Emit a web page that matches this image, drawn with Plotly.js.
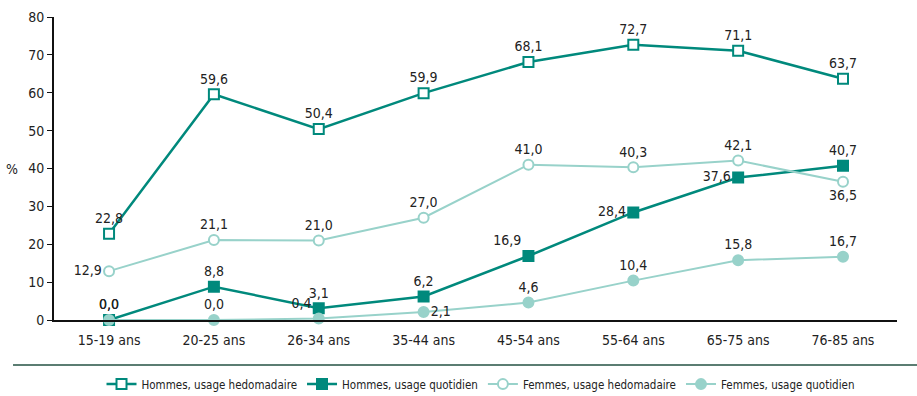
<!DOCTYPE html>
<html>
<head>
<meta charset="utf-8">
<script src="https://cdn.plot.ly/plotly-3.0.1.min.js"></script>
<style>html,body{margin:0;padding:0;background:#fff;}#chart{width:917px;height:396px;}</style>
</head>
<body>
<div id="chart"></div>
<script>
var categories = ["15-19 ans","20-25 ans","26-34 ans","35-44 ans","45-54 ans","55-64 ans","65-75 ans","76-85 ans"];
var hommesHebdo = [22.8, 59.6, 50.4, 59.9, 68.1, 72.7, 71.1, 63.7];
var hommesQuot  = [0.0, 8.8, 3.1, 6.2, 16.9, 28.4, 37.6, 40.7];
var femmesHebdo = [12.9, 21.1, 21.0, 27.0, 41.0, 40.3, 42.1, 36.5];
var femmesQuot  = [0.0, 0.0, 0.4, 2.1, 4.6, 10.4, 15.8, 16.7];
var seriesNames = ["Hommes, usage hedomadaire","Hommes, usage quotidien","Femmes, usage hedomadaire","Femmes, usage quotidien"];
var yTicks = [0,10,20,30,40,50,60,70,80];

var posHH = ["top center","top center","top center","top center","top center","top center","top center","top center"];
var posHQ = ["top center","top center","top center","top center","top left","middle left","middle left","top center"];
var posFH = ["middle left","top center","top center","top center","top center","top center","top center","bottom center"];
var posFQ = ["top center","top center","top left","middle right","top center","top center","top center","top center"];

var FONT = "'Liberation Sans Narrow','DejaVu Sans Condensed','Roboto Condensed',sans-serif";
var DARK = "#00897c";
var LIGHT = "#98d2ca";

function fmt(v){ return v.toFixed(1).replace(".", ","); }

function trace(name, ys, color, symbol, filled, width, pos){
  return {
    x: categories, y: ys, name: name, type: "scatter", mode: "lines+markers+text",
    text: ys.map(fmt), textposition: pos,
    textfont: {family: FONT, size: 14, color: "#222"},
    line: {color: color, width: width},
    marker: {symbol: symbol, size: 10, color: filled ? color : "#fff",
             line: {color: color, width: 2}},
    cliponaxis: false, hoverinfo: "skip"
  };
}

var data = [
  trace(seriesNames[0], hommesHebdo, DARK, "square", false, 2.5, posHH),
  trace(seriesNames[1], hommesQuot, DARK, "square", true, 2.5, posHQ),
  trace(seriesNames[2], femmesHebdo, LIGHT, "circle", false, 2, posFH),
  trace(seriesNames[3], femmesQuot, LIGHT, "circle", true, 2, posFQ)
];

var layout = {
  width: 917, height: 396,
  margin: {l: 54, r: 20, t: 17, b: 76},
  paper_bgcolor: "#fff", plot_bgcolor: "#fff",
  font: {family: FONT, size: 14, color: "#222"},
  showlegend: true,
  legend: {orientation: "h", x: 0.524, xref: "container", xanchor: "center",
           y: 0.03, yref: "container", yanchor: "middle",
           font: {family: FONT, size: 11.5, color: "#222"}, traceorder: "normal",
           itemwidth: 30},
  xaxis: {type: "category", range: [-0.525, 7.515], showgrid: false, zeroline: false,
          showline: true, linecolor: "#111", linewidth: 2, ticks: "", ticklabelstandoff: 6,
          tickfont: {family: FONT, size: 14, color: "#222"}, fixedrange: true, automargin: false},
  yaxis: {range: [0, 80], tickvals: yTicks, showgrid: false, zeroline: false,
          showline: true, linecolor: "#111", linewidth: 2, ticks: "outside", ticklen: 5,
          tickcolor: "#111", tickwidth: 1,
          tickfont: {family: FONT, size: 14, color: "#222"}, fixedrange: true, automargin: false},
  shapes: [{type: "line", xref: "paper", yref: "paper", x0: -0.0486, x1: 1.024,
            y0: -0.1485, y1: -0.1485, line: {color: "#5b7d72", width: 2}}],
  annotations: [{text: "%", xref: "paper", yref: "y", x: -0.05, y: 40, xanchor: "center",
                 showarrow: false, font: {family: FONT, size: 14, color: "#222"}}]
};

Plotly.newPlot("chart", data, layout, {displayModeBar: false, staticPlot: true});
</script>
</body>
</html>
